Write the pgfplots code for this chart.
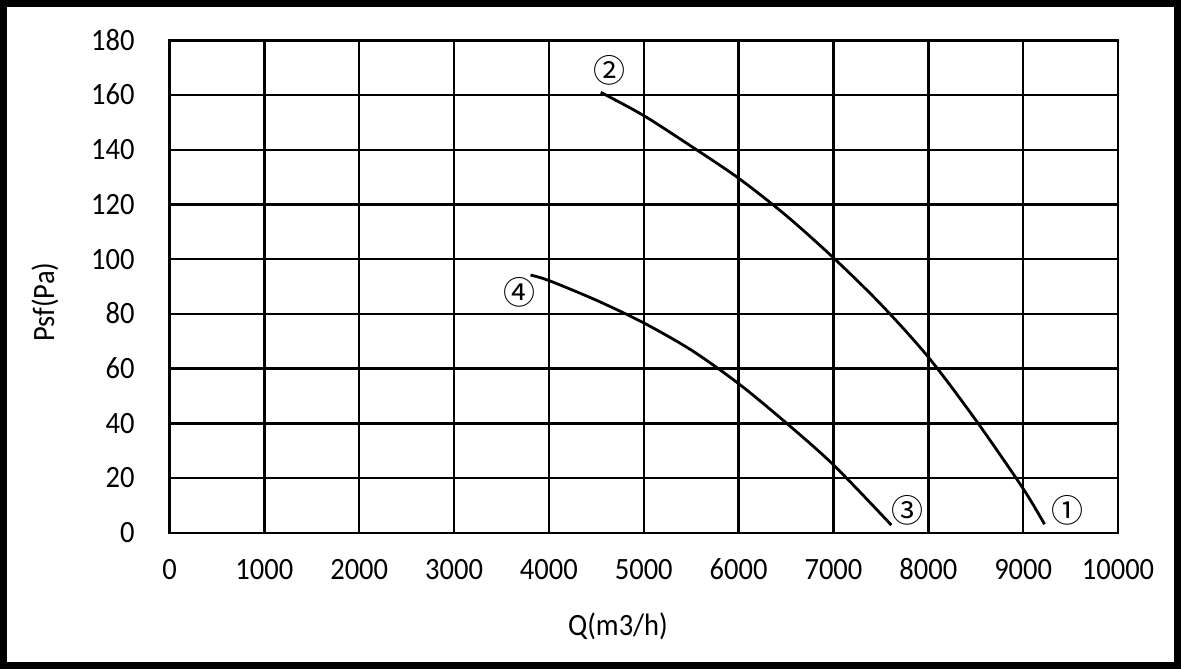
\documentclass[border=0pt]{standalone}
\usepackage{fontspec}
\setmainfont{Carlito}[FakeStretch=0.92, Numbers=Lining]
\newfontfamily\circfont{Noto Sans CJK JP}
\usepackage{pgfplots}
\pgfplotsset{compat=1.18}
\begin{document}
\begin{tikzpicture}
\begin{axis}[
  at={(0,0)}, anchor=south west,
  width=474.25pt, height=246.15pt, scale only axis,
  xmin=0, xmax=10000, ymin=0, ymax=180,
  xtick distance=1000, ytick distance=20,
  grid=major,
  major grid style={black, line width=1.2pt},
  axis line style={black, line width=1.2pt},
  tick style={draw=none},
  tick label style={font=\fontsize{15.5}{18}\selectfont, inner sep=0pt, text height=9.9pt, text depth=0pt},
  /pgf/number format/assume math mode=true,
  /pgf/number format/1000 sep={},
  scaled x ticks=false, scaled y ticks=false,
  yticklabel shift=17.25pt,
  xticklabel shift=13.5pt,
  clip=false,
]
\addplot[black, line width=1.4pt, smooth] coordinates {
(4547,161.0) (5000,152.5) (5500,141.3) (6000,129.6) (6500,116.0) (7000,100.5)
(7500,83.5) (8000,64.2) (8500,41.2) (9000,16.1) (9225,3.1)};
\addplot[black, line width=1.4pt, smooth] coordinates {
(3806,94.2) (4000,92.2) (4500,85.0) (5000,76.7) (5500,66.8) (6000,54.5)
(6500,40.2) (7000,24.8) (7610,2.8)};
\node[font=\circfont\fontsize{16}{16}\selectfont] at (axis cs:4642,169.2) {②};
\node[font=\circfont\fontsize{16}{16}\selectfont] at (axis cs:3694,87.9) {④};
\node[font=\circfont\fontsize{16}{16}\selectfont] at (axis cs:7782,8.3) {③};
\node[font=\circfont\fontsize{16}{16}\selectfont] at (axis cs:9468,8.3) {①};
\end{axis}
\node[font=\fontsize{15.5}{18}\selectfont] at (224.25pt,-46.65pt) {Q(m3/h)};
\node[font=\fontsize{15.5}{18}\selectfont, rotate=90] at (-62.25pt,115.3pt) {Psf(Pa)};
\draw[black, line width=3.5pt] (-83pt,-66.4pt) rectangle (504pt,264.6pt);
\pgfresetboundingbox
\useasboundingbox (-84.75pt,-68.15pt) rectangle (505.75pt,266.35pt);
\end{tikzpicture}
\end{document}
